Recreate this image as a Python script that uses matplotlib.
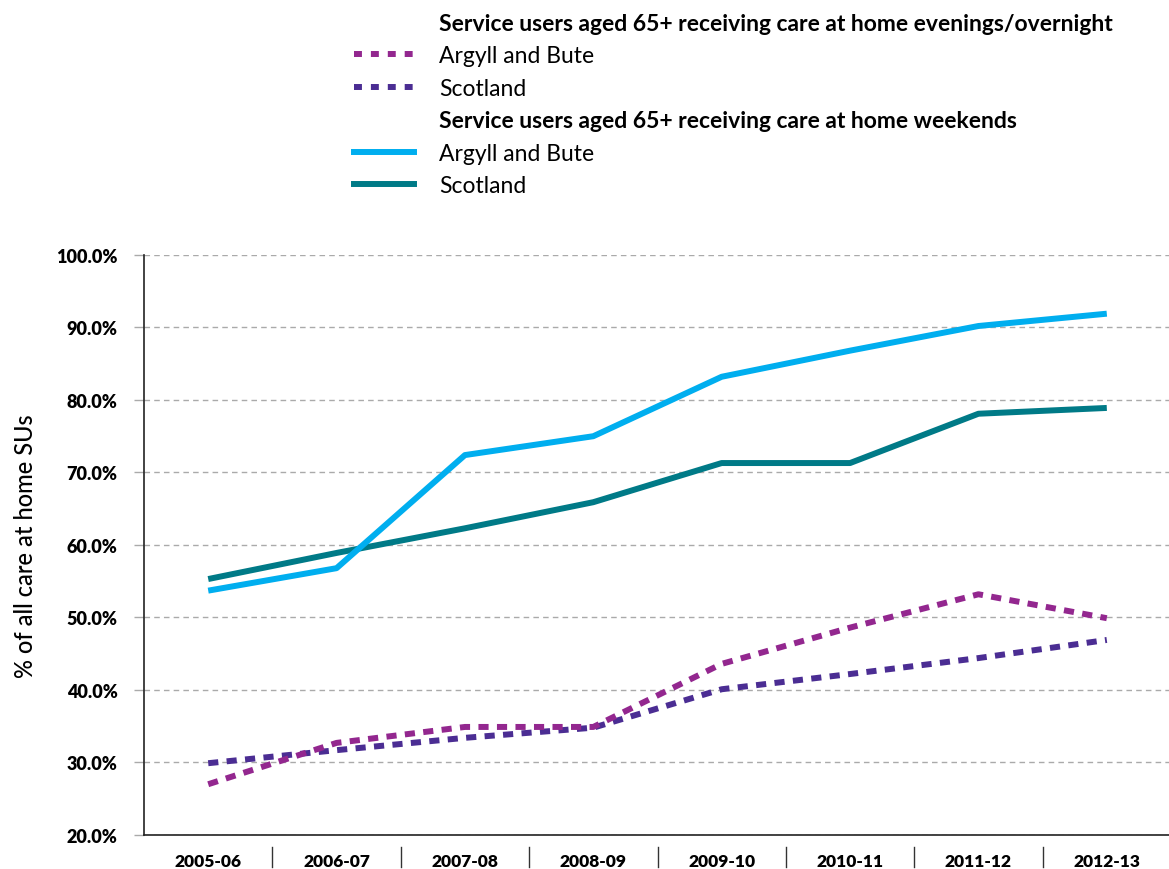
import matplotlib
matplotlib.use("Agg")
import matplotlib.pyplot as plt
from matplotlib.lines import Line2D

plt.rcParams['font.family'] = ['Lato', 'DejaVu Sans']

# data
years = ['2005-06', '2006-07', '2007-08', '2008-09', '2009-10', '2010-11', '2011-12', '2012-13']
eve_argyll = [27.0, 32.7, 34.9, 34.9, 43.6, 48.6, 53.2, 49.9]
eve_scotland = [29.9, 31.7, 33.4, 34.8, 40.1, 42.2, 44.4, 46.9]
wkd_argyll = [53.7, 56.8, 72.4, 75.0, 83.2, 86.8, 90.2, 91.9]
wkd_scotland = [55.3, 58.9, 62.3, 65.9, 71.3, 71.3, 78.1, 78.9]
yticks = [20, 30, 40, 50, 60, 70, 80, 90, 100]

c_purple = '#93278F'
c_dpurple = '#4B2D93'
c_blue = '#00AEEF'
c_teal = '#007A87'
lw = 4.3
dots = (0, (1.7, 1.4))

fig = plt.figure(figsize=(11.69, 8.7), dpi=100)
ax = fig.add_axes([0.1232, 0.0391, 0.8785, 0.6667])

x = range(len(years))
ax.plot(x, wkd_scotland, color=c_teal, lw=lw, solid_capstyle='butt')
ax.plot(x, wkd_argyll, color=c_blue, lw=lw, solid_capstyle='butt')
ax.plot(x, eve_scotland, color=c_dpurple, lw=lw, ls=dots)
ax.plot(x, eve_argyll, color=c_purple, lw=lw, ls=dots)

ax.set_xlim(-0.5, 7.5)
ax.set_ylim(20, 100)
ax.set_yticks(yticks)
ax.set_yticklabels(['%.1f%%' % v for v in yticks], fontweight='heavy', fontsize=13)
ax.set_xticks(list(x))
ax.set_xticklabels(years, fontweight='heavy', fontsize=12.5)
ax.tick_params(axis='x', length=0, pad=13)
ax.tick_params(axis='y', length=7, color='#aaaaaa', pad=12, width=1)
ax.grid(axis='y', color='#aaaaaa', ls=(0, (4, 3)), lw=1)
ax.set_axisbelow(True)
for s in ['top', 'right']:
    ax.spines[s].set_visible(False)
for s in ['left', 'bottom']:
    ax.spines[s].set_linewidth(1.2)
    ax.spines[s].set_color('#222222')
ax.set_ylabel('% of all care at home SUs', fontsize=17, fontweight='medium', labelpad=14)

# separators between categories below the axis
for i in range(len(years) - 1):
    ax.plot([i + 0.5, i + 0.5], [-0.021, -0.055], color='#333333', lw=1,
            transform=ax.get_xaxis_transform(), clip_on=False)

# legend with section headers
blank = Line2D([], [], color='none')
leg_dots = (0, (1.33, 1.5))
handles = [blank,
           Line2D([], [], color=c_purple, lw=lw, ls=leg_dots),
           Line2D([], [], color=c_dpurple, lw=lw, ls=leg_dots),
           blank,
           Line2D([], [], color=c_blue, lw=lw),
           Line2D([], [], color=c_teal, lw=lw)]
labels = ['Service users aged 65+ receiving care at home evenings/overnight',
          'Argyll and Bute', 'Scotland',
          'Service users aged 65+ receiving care at home weekends',
          'Argyll and Bute', 'Scotland']
leg = fig.legend(handles, labels, loc='upper left', bbox_to_anchor=(0.291, 1.0),
                 frameon=False, fontsize=16.5, handlelength=2.6, handletextpad=1.1,
                 labelspacing=0.5, borderaxespad=0.2)
for i in (0, 3):
    leg.get_texts()[i].set_fontweight('bold')

fig.savefig('out.png', dpi=100)
